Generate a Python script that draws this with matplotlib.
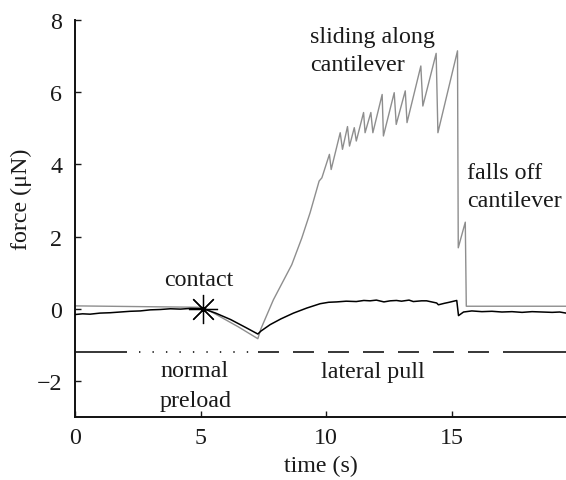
import matplotlib
matplotlib.use("Agg")
import matplotlib.pyplot as plt

plt.rcParams['font.family'] = ['Liberation Serif', 'DejaVu Serif']
plt.rcParams['lines.scale_dashes'] = False

# ---- data ----
gray_t = [0, 5.1, 5.6, 6.5, 7.28, 7.4, 7.9, 8.63, 9.03, 9.36, 9.72, 9.83,
          10.13, 10.2, 10.56, 10.65, 10.85, 10.93, 11.12, 11.2, 11.49, 11.55,
          11.78, 11.86, 12.23, 12.28, 12.71, 12.79, 13.15, 13.22, 13.77, 13.85,
          14.38, 14.45, 15.23, 15.26, 15.54, 15.58, 19.55]
gray_f = [0.08, 0.04, -0.15, -0.5, -0.83, -0.56, 0.25, 1.22, 1.96, 2.66, 3.54, 3.63,
          4.28, 3.86, 4.88, 4.42, 5.05, 4.51, 5.02, 4.65, 5.44, 4.88,
          5.44, 4.88, 5.94, 4.79, 5.99, 5.11, 6.04, 5.16, 6.73, 5.62,
          7.08, 4.88, 7.15, 1.69, 2.40, 0.07, 0.07]

black_t = [0, 0.3, 0.6, 1.0, 1.4, 1.8, 2.2, 2.6, 3.0, 3.4, 3.8, 4.2, 4.6, 5.1,
           5.6, 6.2, 6.8, 7.28, 7.4, 7.77, 8.2, 8.7, 9.23, 9.76, 10.1, 10.42,
           10.8, 11.2, 11.5, 11.75, 12.0, 12.3, 12.55, 12.8, 13.0, 13.3, 13.47,
           13.8, 14.0, 14.2, 14.4, 14.47, 14.7, 14.9, 15.2, 15.27, 15.47, 15.8,
           16.2, 16.6, 17.0, 17.4, 17.8, 18.2, 18.6, 19.0, 19.3, 19.55]
black_f = [-0.16, -0.14, -0.15, -0.12, -0.11, -0.09, -0.07, -0.06, -0.03, -0.02,
           0.0, -0.01, 0.01, 0.0,
           -0.12, -0.30, -0.52, -0.70, -0.62, -0.44, -0.28, -0.12, 0.02, 0.14,
           0.18, 0.19, 0.21, 0.20, 0.23, 0.22, 0.24, 0.19, 0.22, 0.23, 0.21,
           0.24, 0.20, 0.22, 0.22, 0.19, 0.16, 0.11, 0.15, 0.18, 0.23, -0.19,
           -0.09, -0.06, -0.08, -0.07, -0.09, -0.08, -0.10, -0.08, -0.09, -0.10,
           -0.09, -0.12]

contact_t, contact_f = [5.1], [0.0]

pull_level = -1.2
solid1_t = [0.0, 2.06]
preload_t = [2.55, 7.15]
lateral_t = [7.3, 17.07]
solid2_t = [17.07, 19.55]

# ---- figure ----
fig = plt.figure(figsize=(5.66, 4.81), dpi=100)
ax = fig.add_axes([0.1325, 0.131, 0.8675, 0.825])

ax.plot(gray_t, gray_f, color='#8e8e8e', lw=1.0, zorder=2)
ax.plot(black_t, black_f, color='black', lw=1.1, zorder=3)
ax.plot(contact_t, contact_f, linestyle='none', marker=(8, 2, 0), ms=21,
        mec='black', mew=0.9, zorder=4)

ax.plot(solid1_t, [pull_level] * 2, color='black', lw=1.1, solid_capstyle='butt')
ax.plot(preload_t, [pull_level] * 2, color='black', lw=1.1,
        linestyle=(0, (1.0, 8.7)), dash_capstyle='butt')
ax.plot(lateral_t, [pull_level] * 2, color='black', lw=1.1,
        linestyle=(0, (15.1, 10.1)), dash_capstyle='butt')
ax.plot(solid2_t, [pull_level] * 2, color='black', lw=1.1, solid_capstyle='butt')

fs = 17.3
tc = '#1a1a1a'
ax.text(9.36, 7.56, 'sliding along', fontsize=fs, color=tc, ha='left', va='center')
ax.text(9.36, 6.78, 'cantilever', fontsize=fs, color=tc, ha='left', va='center')
ax.text(15.6, 3.78, 'falls off', fontsize=fs, color=tc, ha='left', va='center')
ax.text(15.6, 3.0, 'cantilever', fontsize=fs, color=tc, ha='left', va='center')
ax.text(4.94, 0.8, 'contact', fontsize=fs, color=tc, ha='center', va='center')
ax.text(4.75, -1.7, 'normal', fontsize=fs, color=tc, ha='center', va='center')
ax.text(4.8, -2.55, 'preload', fontsize=fs, color=tc, ha='center', va='center')
ax.text(11.87, -1.75, 'lateral pull', fontsize=fs, color=tc, ha='center', va='center')

ax.set_xlim(0, 19.55)
ax.set_ylim(-3, 8)
ax.set_xticks([0, 5, 10, 15])
ax.set_yticks([-2, 0, 2, 4, 6, 8])
ax.set_yticklabels(['\u22122', '0', '2', '4', '6', '8'])
ax.tick_params(direction='in', length=4, width=1.0, labelsize=fs, colors=tc)
ax.tick_params(axis='y', pad=9)
ax.tick_params(axis='x', pad=7)
for s in ['top', 'right']:
    ax.spines[s].set_visible(False)
for s in ['left', 'bottom']:
    ax.spines[s].set_linewidth(1.4)
    ax.spines[s].set_color('#111111')

ax.set_xlabel('time (s)', fontsize=fs, color=tc, labelpad=5)
ax.set_ylabel('force (\u03bcN)', fontsize=fs, color=tc)
ax.yaxis.set_label_coords(-0.088, 0.55)

fig.savefig('out.png', dpi=100)
